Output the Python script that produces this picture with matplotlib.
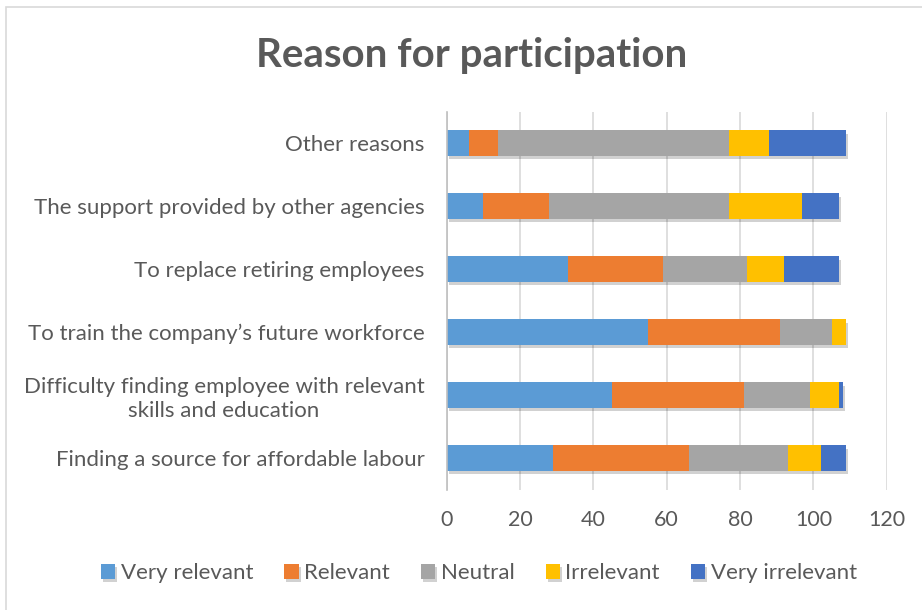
import matplotlib
matplotlib.use("Agg")
import matplotlib.pyplot as plt
import matplotlib.patheffects as pe
from matplotlib.patches import Rectangle
import numpy as np

plt.rcParams['font.family'] = ['Lato', 'DejaVu Sans']

# survey answers per reason, bottom row first
reasons = [
    "Finding a source for affordable labour",
    "Difficulty finding employee with relevant\nskills and education",
    "To train the company\u2019s future workforce",
    "To replace retiring employees",
    "The support provided by other agencies",
    "Other reasons",
]
answers = ["Very relevant", "Relevant", "Neutral", "Irrelevant", "Very irrelevant"]
very_relevant = [29, 45, 55, 33, 10, 6]
relevant = [37, 36, 36, 26, 18, 8]
neutral = [27, 18, 14, 23, 49, 63]
irrelevant = [9, 8, 4, 10, 20, 11]
very_irrelevant = [7, 1, 0, 15, 10, 21]
x_ticks = [0, 20, 40, 60, 80, 100, 120]

colors = ["#5B9BD5", "#ED7D31", "#A5A5A5", "#FFC000", "#4472C4"]
text_col = "#595959"

fig = plt.figure(figsize=(9.22, 6.10), dpi=100)
fig.patches.append(Rectangle((6 / 922, -0.1), 1.2, 1 - 7 / 610 + 0.1, transform=fig.transFigure,
                             fill=False, edgecolor="#D9D9D9", linewidth=1.2))

ax = fig.add_axes([446.7 / 922, 1 - 489.5 / 610, 440 / 922, 378 / 610])
y = np.arange(len(reasons))
left = np.zeros(len(reasons))
shadow = [pe.SimplePatchShadow(offset=(1.5, -2.5), shadow_rgbFace="#000000", alpha=0.18), pe.Normal()]
for name, vals, c in zip(answers, [very_relevant, relevant, neutral, irrelevant, very_irrelevant], colors):
    bars = ax.barh(y, vals, left=left, height=0.41, color=c, label=name, zorder=3)
    for b in bars:
        b.set_path_effects(shadow)
    left += np.array(vals)

ax.set_xlim(0, 120)
ax.set_ylim(-0.5, len(reasons) - 0.5)
ax.set_xticks(x_ticks)
ax.set_yticks(y)
ax.set_yticklabels(reasons, multialignment="center", linespacing=1.25, fontsize=16)
ax.grid(axis="x", color="#D9D9D9", linewidth=1.2, zorder=0)
for s in ["top", "right", "bottom"]:
    ax.spines[s].set_visible(False)
ax.spines["left"].set_color("#BFBFBF")
ax.spines["left"].set_linewidth(1.2)
ax.spines["left"].set_zorder(4)
ax.tick_params(axis="both", length=0, colors=text_col)
ax.tick_params(axis="x", labelsize=15.5, pad=15)
ax.tick_params(axis="y", pad=16)

fig.text(472 / 922, 1 - 55 / 610, "Reason for participation", ha="center", va="center",
         fontsize=29, fontweight="bold", color=text_col)

leg = fig.legend(loc="center", bbox_to_anchor=(479 / 922, 1 - 573 / 610), ncol=5, frameon=False,
                 fontsize=16, handlelength=0.64, handleheight=0.64, handletextpad=0.25,
                 columnspacing=1.4)
for t in leg.get_texts():
    t.set_color(text_col)

fig.savefig("out.png", dpi=100)
